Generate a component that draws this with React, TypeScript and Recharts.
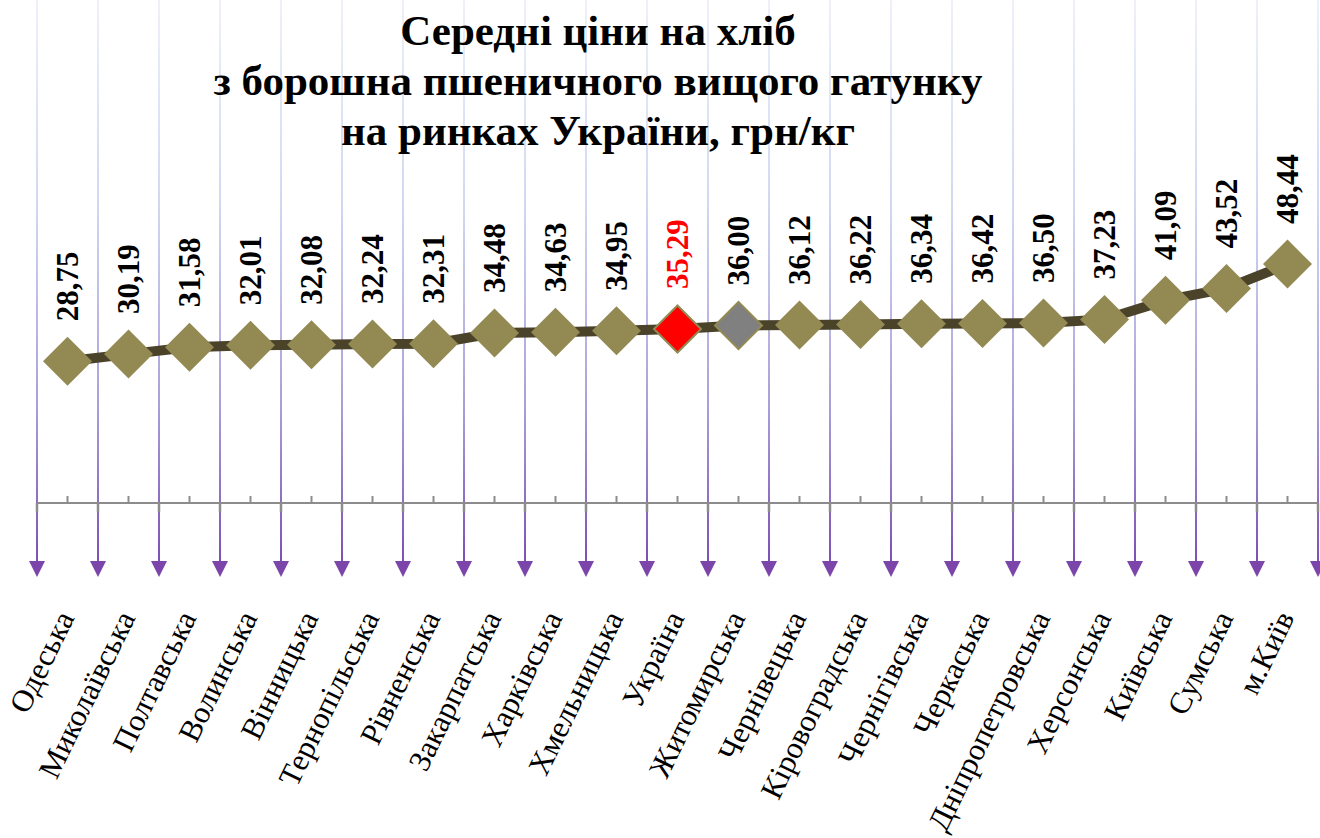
import React from 'react';
import { LineChart, Line, XAxis, YAxis, CartesianGrid, LabelList } from 'recharts';

const regions = [
  'Одеська',
  'Миколаївська',
  'Полтавська',
  'Волинська',
  'Вінницька',
  'Тернопільська',
  'Рівненська',
  'Закарпатська',
  'Харківська',
  'Хмельницька',
  'Україна',
  'Житомирська',
  'Чернівецька',
  'Кіровоградська',
  'Чернігівська',
  'Черкаська',
  'Дніпропетровська',
  'Херсонська',
  'Київська',
  'Сумська',
  'м.Київ',
];

const prices = [
  28.75, 30.19, 31.58, 32.01, 32.08, 32.24, 32.31, 34.48, 34.63, 34.95, 35.29,
  36.0, 36.12, 36.22, 36.34, 36.42, 36.5, 37.23, 41.09, 43.52, 48.44,
];

const titleLines = [
  'Середні ціни на хліб',
  'з борошна пшеничного вищого гатунку',
  'на ринках України, грн/кг',
];

const countryName = 'Україна';
const greyName = 'Житомирська';

const data = regions.map((name, i) => ({ name, price: prices[i] }));

const FONT = 'Liberation Serif, DejaVu Serif, serif';
const OLIVE = '#938953';

const fmt = (v: number) => v.toFixed(2).replace('.', ',');

// diamond markers, the country average is red and Zhytomyr is grey
const Diamond = (props: any) => {
  const { cx, cy, payload } = props;
  if (cx == null || cy == null) return null;
  let fill = OLIVE;
  let stroke = 'none';
  let r = 24.5;
  if (payload.name === countryName) {
    fill = '#ff0000';
    stroke = OLIVE;
    r = 23.5;
  } else if (payload.name === greyName) {
    fill = '#808080';
    stroke = OLIVE;
    r = 23.5;
  }
  return (
    <polygon
      points={`${cx},${cy - r} ${cx + r},${cy} ${cx},${cy + r} ${cx - r},${cy}`}
      fill={fill}
      stroke={stroke}
      strokeWidth={2}
    />
  );
};

const PriceLabel = (props: any) => {
  const { x, y, value, index } = props;
  if (x == null || y == null) return null;
  const ty = y - 40;
  return (
    <text
      x={x}
      y={ty}
      transform={`rotate(-90, ${x}, ${ty})`}
      textAnchor="start"
      dominantBaseline="central"
      style={{ fontFamily: FONT }}
      fontWeight="bold"
      fontSize={31}
      fill={regions[index] === countryName ? '#ff0000' : '#000000'}
    >
      {fmt(value)}
    </text>
  );
};

const RegionTick = (props: any) => {
  const { x, y, payload } = props;
  const tx = x - 2;
  const ty = y + 110;
  return (
    <g>
      <line x1={x} y1={y} x2={x} y2={y - 7} stroke="#8c8c8c" strokeWidth={2} />
      <text
        x={tx}
        y={ty}
        transform={`rotate(-64, ${tx}, ${ty})`}
        textAnchor="end"
        dominantBaseline="central"
        style={{ fontFamily: FONT }}
        fontSize={31}
        fill="#000000"
      >
        {payload.value}
      </text>
    </g>
  );
};

const GridLine = (props: any) => {
  const { x1, y1, x2, y2 } = props;
  return (
    <g key={`grid-${x1}`}>
      <line
        x1={x1}
        y1={y1}
        x2={x2}
        y2={y2 + 58}
        stroke="url(#gridFade)"
        strokeWidth={2}
        markerEnd="url(#gridArrow)"
      />
      <line x1={x1} y1={y2} x2={x2} y2={y2 + 9} stroke="#8c8c8c" strokeWidth={2.5} />
    </g>
  );
};

const App: React.FC = () => {
  return (
    <div
      style={{
        position: 'absolute',
        left: 0,
        top: 0,
        width: 1320,
        height: 838,
        background: '#ffffff',
        fontFamily: FONT,
      }}
    >
      <svg width={0} height={0} style={{ position: 'absolute' }}>
        <defs>
          <linearGradient id="gridFade" gradientUnits="userSpaceOnUse" x1="0" y1="0" x2="0" y2="576">
            <stop offset="0" stopColor="#eef0fa" />
            <stop offset="0.35" stopColor="#d2d8f2" />
            <stop offset="0.7" stopColor="#a9a0da" />
            <stop offset="1" stopColor="#7a48b0" />
          </linearGradient>
          <marker
            id="gridArrow"
            markerUnits="userSpaceOnUse"
            markerWidth={16}
            markerHeight={16}
            viewBox="0 0 16 16"
            refX={8}
            refY={0}
            orient="0"
          >
            <path d="M0,0 L16,0 L8,16 Z" fill="#7b45a9" />
          </marker>
        </defs>
      </svg>

      <LineChart
        width={1320}
        height={838}
        data={data}
        margin={{ top: 0, right: 2, bottom: 35, left: 37 }}
        style={{ fontFamily: FONT }}
      >
        <CartesianGrid
          horizontal={false}
          vertical={GridLine}
          verticalCoordinatesGenerator={({ offset }: any) =>
            regions
              .concat([''])
              .map((_, i) => offset.left + (i * offset.width) / regions.length)
          }
        />
        <XAxis
          dataKey="name"
          interval={0}
          padding={{ left: 30.5, right: 30.5 }}
          height={300}
          axisLine={{ stroke: '#8c8c8c', strokeWidth: 2 }}
          tickLine={false}
          tickSize={0}
          tickMargin={0}
          tick={RegionTick}
        />
        <YAxis hide domain={[0, 102]} />
        <Line
          type="linear"
          dataKey="price"
          stroke="#4a4229"
          strokeWidth={10}
          dot={Diamond}
          activeDot={false}
          isAnimationActive={false}
        >
          <LabelList dataKey="price" content={PriceLabel} />
        </Line>
      </LineChart>

      <div
        style={{
          position: 'absolute',
          left: 0,
          top: 6,
          width: 1196,
          textAlign: 'center',
          fontFamily: FONT,
          fontWeight: 'bold',
          fontSize: 43,
          lineHeight: '50px',
          color: '#000000',
        }}
      >
        {titleLines.map((t) => (
          <div key={t}>{t}</div>
        ))}
      </div>
    </div>
  );
};

export default App;
